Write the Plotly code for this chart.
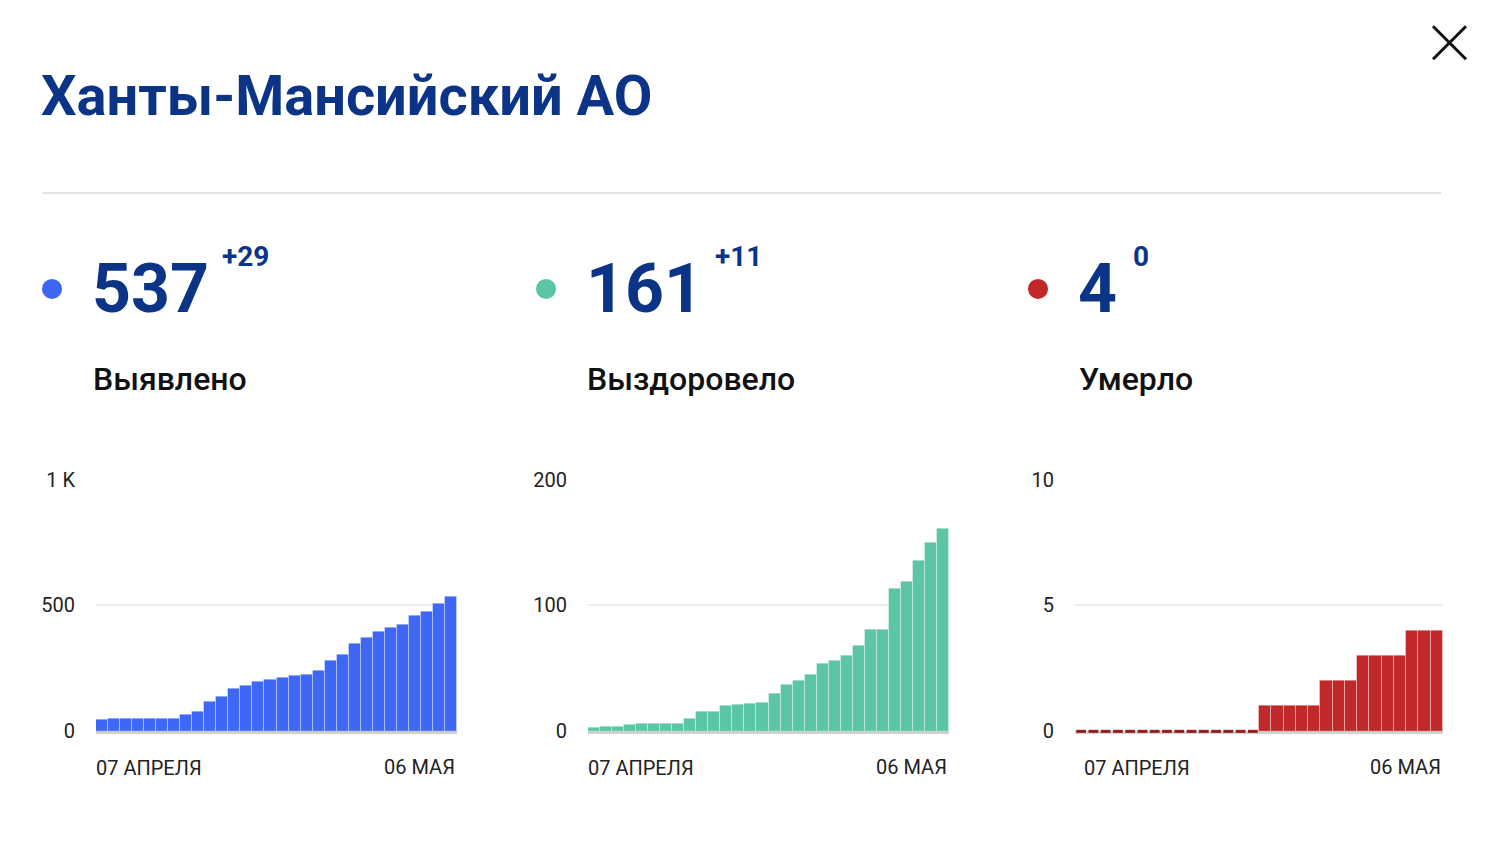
import pandas as pd
import plotly.graph_objects as go

W, H = 1508, 846

# данные по Ханты-Мансийскому АО, 07.04 - 06.05
dates = pd.date_range("2020-04-07", "2020-05-06", freq="D")
confirmed = [46, 50, 50, 50, 50, 50, 50, 65, 78, 119, 136, 169, 182, 197, 205,
             212, 222, 225, 242, 282, 306, 348, 374, 395, 413, 423, 459, 475, 508, 537]
recovered = [3, 4, 4, 5, 6, 6, 6, 6, 10, 16, 16, 20, 21, 22, 23,
             30, 37, 40, 45, 54, 56, 60, 68, 81, 81, 113, 119, 136, 150, 161]
deaths = [0, 0, 0, 0, 0, 0, 0, 0, 0, 0, 0, 0, 0, 0, 0,
          1, 1, 1, 1, 1, 2, 2, 2, 3, 3, 3, 3, 4, 4, 4]

region = "Ханты-Мансийский АО"
labels = ["Выявлено", "Выздоровело", "Умерло"]
totals = [537, 161, 4]
deltas = ["+29", "+11", "0"]
y_ticks = [[0, 500, 1000], [0, 100, 200], [0, 5, 10]]
y_ticktext = [["0", "500", "1 K"], ["0", "100", "200"], ["0", "5", "10"]]
date_labels = ["07 АПРЕЛЯ", "06 МАЯ"]

colors = ["#3f67f5", "#5bc5a5", "#c0282a"]
navy = "#0b3487"
series = [confirmed, recovered, deaths]

# перевод пикселей скриншота в доли листа (с поправкой на отступы страницы)
def px(x):
    return (x - 8) / W

def py(y):
    return 1 - ((y - 18.7) / 0.973) / H

# пиксельные границы трёх графиков
x_dom = [(96, 457), (588, 949), (1075, 1443)]
plot_top, plot_bot = 479, 731
stat_left = [52, 546, 1038]
num_left = [94, 588, 1080]
delta_left = [222, 715, 1133]
first_label_shift = [-2, -2, 7]

half_day = pd.Timedelta(hours=12)
x_range = [dates[0] - half_day, dates[-1] + half_day]
tick_font = dict(family="Roboto", size=20, color="#222222")

fig = go.Figure()
annotations = []
shapes = []

for i in range(3):
    xa = "x" if i == 0 else "x%d" % (i + 1)
    ya = "y" if i == 0 else "y%d" % (i + 1)
    fig.add_trace(go.Bar(x=dates, y=series[i], xaxis=xa, yaxis=ya,
                         marker=dict(color=colors[i],
                                     line=dict(color="rgba(255,255,255,0.35)", width=1)),
                         hoverinfo="skip", showlegend=False))

    xkey = "xaxis" if i == 0 else "xaxis%d" % (i + 1)
    ykey = "yaxis" if i == 0 else "yaxis%d" % (i + 1)
    fig.update_layout(**{
        xkey: dict(domain=[px(x_dom[i][0]), px(x_dom[i][1])], anchor=ya,
                   range=x_range, type="date", showticklabels=False, ticks="",
                   showgrid=False, zeroline=False, showline=True,
                   linecolor="rgba(0,0,0,0.18)", linewidth=3, layer="above traces",
                   fixedrange=True),
        ykey: dict(domain=[py(plot_bot), py(plot_top)], anchor=xa,
                   range=[0, y_ticks[i][-1]], tickvals=y_ticks[i], ticktext=y_ticktext[i],
                   showgrid=True, gridcolor="#eeeeee", gridwidth=2, zeroline=False,
                   showline=False, ticks="", ticklabelstandoff=20,
                   tickfont=tick_font, fixedrange=True),
    })

    # подписи дат под осью
    annotations.append(dict(x=x_range[0], y=py(768), xref=xa, yref="paper",
                            text=date_labels[0], showarrow=False, xanchor="left",
                            xshift=first_label_shift[i],
                            yanchor="middle", font=tick_font))
    annotations.append(dict(x=x_range[1], y=py(767), xref=xa, yref="paper",
                            text=date_labels[1], showarrow=False, xanchor="right",
                            yanchor="middle", font=tick_font))

    # цифры над графиком
    shapes.append(dict(type="circle", xref="paper", yref="paper",
                       x0=px(stat_left[i] - 10), x1=px(stat_left[i] + 10),
                       y0=py(298), y1=py(278), fillcolor=colors[i], line=dict(width=0)))
    annotations.append(dict(x=px(num_left[i] - 4), y=py(288), xref="paper", yref="paper",
                            text=str(totals[i]), showarrow=False, xanchor="left", yanchor="middle",
                            font=dict(family="Roboto", size=68, color=navy, weight=700)))
    annotations.append(dict(x=px(delta_left[i] - 2), y=py(256), xref="paper", yref="paper",
                            text=deltas[i], showarrow=False, xanchor="left", yanchor="middle",
                            font=dict(family="Roboto", size=28, color=navy, weight=700)))
    annotations.append(dict(x=px(num_left[i] - 3), y=py(378), xref="paper", yref="paper",
                            text=labels[i], showarrow=False, xanchor="left", yanchor="middle",
                            font=dict(family="Roboto", size=32, color="#111111", weight=500)))

# нулевые дни у умерших - пунктир
zero_days = [d for d, v in zip(dates, deaths) if v == 0]
fig.add_trace(go.Scatter(x=zero_days, y=[0] * len(zero_days), xaxis="x3", yaxis="y3",
                         mode="markers", hoverinfo="skip", showlegend=False, cliponaxis=False,
                         marker=dict(symbol="line-ew", size=7,
                                     line=dict(color="#a8201f", width=3))))

# заголовок, разделитель, крестик
annotations.append(dict(x=px(39), y=py(95), xref="paper", yref="paper", text=region,
                        showarrow=False, xanchor="left", yanchor="middle",
                        font=dict(family="Roboto", size=56, color=navy, weight=700)))
shapes.append(dict(type="line", xref="paper", yref="paper", x0=px(42), x1=px(1441),
                   y0=py(192), y1=py(192), line=dict(color="#e4e4e4", width=2)))
shapes.append(dict(type="line", xref="paper", yref="paper", x0=px(1433), x1=px(1466),
                   y0=py(25), y1=py(58), line=dict(color="#111111", width=3)))
shapes.append(dict(type="line", xref="paper", yref="paper", x0=px(1466), x1=px(1433),
                   y0=py(25), y1=py(58), line=dict(color="#111111", width=3)))
shapes.append(dict(type="rect", xref="paper", yref="paper", x0=px(1500), x1=1,
                   y0=0, y1=1, fillcolor="#f6f6f8", line=dict(width=0), layer="below"))

fig.update_layout(width=W, height=H, margin=dict(l=0, r=0, t=0, b=0),
                  paper_bgcolor="white", plot_bgcolor="white", bargap=0,
                  annotations=annotations, shapes=shapes,
                  font=dict(family="Roboto"))

fig.write_html("out.html", config={"displayModeBar": False})
